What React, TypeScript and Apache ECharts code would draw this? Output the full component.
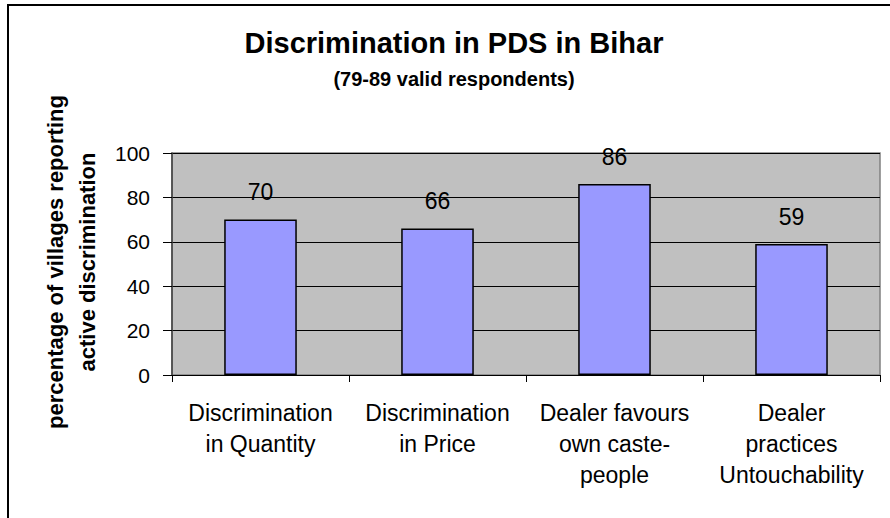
import React, { useEffect, useRef } from "react";
import * as echarts from "echarts";

const categories = [
  "Discrimination\nin Quantity",
  "Discrimination\nin Price",
  "Dealer favours\nown caste-\npeople",
  "Dealer\npractices\nUntouchability",
];
const values = [70, 66, 86, 59];
const titleText = "Discrimination in PDS in Bihar";
const subtitleText = "(79-89 valid respondents)";
const yAxisTitle = "percentage of villages reporting\nactive discrimination";

const FONT = "'Liberation Sans', Arial, sans-serif";

export default function App() {
  const ref = useRef<HTMLDivElement>(null);
  useEffect(() => {
    if (!ref.current) return;
    const chart = echarts.init(ref.current, undefined, { renderer: "svg" });
    chart.setOption({
      animation: false,
      backgroundColor: "#ffffff",
      title: [
        {
          text: titleText,
          left: 454,
          top: 26,
          textAlign: "center",
          padding: 0,
          textStyle: { fontFamily: FONT, fontSize: 29, fontWeight: "bold", color: "#000", lineHeight: 34 },
        },
        {
          text: subtitleText,
          left: 454,
          top: 67,
          textAlign: "center",
          padding: 0,
          textStyle: { fontFamily: FONT, fontSize: 20, fontWeight: "bold", color: "#000", lineHeight: 24 },
        },
      ],
      graphic: [
        {
          type: "rect",
          shape: { x: 8, y: 5, width: 900, height: 530 },
          style: { fill: "none", stroke: "#000", lineWidth: 2 },
          silent: true,
        },
        {
          type: "text",
          x: 71,
          y: 262,
          rotation: Math.PI / 2,
          style: {
            text: yAxisTitle,
            fontFamily: FONT,
            fontSize: 22,
            fontWeight: "bold",
            fill: "#000",
            align: "center",
            verticalAlign: "middle",
            lineHeight: 32,
          },
        },
      ],
      grid: {
        left: 172,
        right: 10,
        top: 153,
        bottom: 143,
        show: true,
        backgroundColor: "#C0C0C0",
        borderColor: "#808080",
        borderWidth: 1.5,
      },
      xAxis: {
        type: "category",
        data: categories,
        axisLine: { show: true, lineStyle: { color: "#000", width: 1 } },
        axisTick: { show: true, length: 7, lineStyle: { color: "#000" } },
        axisLabel: {
          interval: 0,
          margin: 22,
          fontFamily: FONT,
          fontSize: 23,
          lineHeight: 31,
          color: "#000",
        },
      },
      yAxis: {
        type: "value",
        min: 0,
        max: 100,
        interval: 20,
        axisLine: { show: true, lineStyle: { color: "#404040", width: 1.5 } },
        axisTick: { show: true, length: 9, lineStyle: { color: "#000" } },
        axisLabel: {
          margin: 22,
          fontFamily: FONT,
          fontSize: 21,
          color: "#000",
        },
        splitLine: { show: true, lineStyle: { color: "#000", width: 1 } },
      },
      series: [
        {
          type: "bar",
          data: values,
          barWidth: "41%",
          itemStyle: { color: "#9999FF", borderColor: "#000", borderWidth: 1.5 },
          label: {
            show: true,
            position: "top",
            distance: 16,
            fontFamily: FONT,
            fontSize: 23,
            color: "#000",
          },
        },
      ],
    });
    return () => chart.dispose();
  }, []);
  return (
    <div
      ref={ref}
      style={{ position: "fixed", left: 0, top: 0, width: 890, height: 518, background: "#fff" }}
    />
  );
}
